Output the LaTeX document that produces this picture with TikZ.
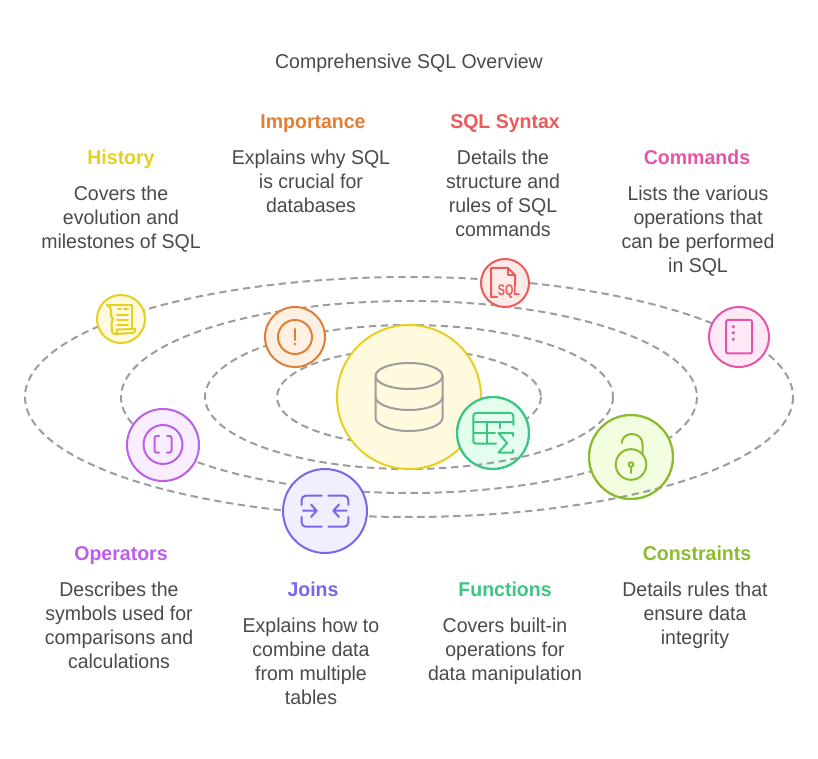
\documentclass[tikz,border=0pt]{standalone}
\usepackage{fontspec}
\setmainfont[FakeStretch=0.975]{Liberation Sans}
\definecolor{cgray}{HTML}{9E9C9C}
\definecolor{ctxt}{HTML}{4A4A4A}
\definecolor{cyel}{HTML}{E6CF1E}\definecolor{fyel}{HTML}{FFF9DD}
\definecolor{cora}{HTML}{E07F35}\definecolor{fora}{HTML}{FFF0E4}
\definecolor{cred}{HTML}{EC5A5A}\definecolor{fred}{HTML}{FFEAEA}
\definecolor{cpin}{HTML}{E455A8}\definecolor{fpin}{HTML}{FFE9F6}
\definecolor{cpur}{HTML}{BB5FE6}\definecolor{fpur}{HTML}{F9EEFF}
\definecolor{cind}{HTML}{7B66E8}\definecolor{find}{HTML}{F1EFFF}
\definecolor{cgrn}{HTML}{3CC583}\definecolor{fgrn}{HTML}{E3FDEF}
\definecolor{clim}{HTML}{8DBB30}\definecolor{flim}{HTML}{F3FDDF}
\newcommand{\lnA}{\strut}
\tikzset{
  orbit/.style={draw=cgray,line width=1.5pt,dash pattern=on 5.5pt off 3.5pt},
  hub/.style n args={3}{circle,draw=#1,fill=#2,line width=1.5pt,inner sep=0pt,minimum size=#3*1.5pt},
  icon/.style={draw=#1,line width=1.5pt,line cap=round,line join=round},
  body/.style={font=\fontsize{15}{18}\selectfont,text=ctxt,align=center,inner sep=0pt,yshift=-2.25pt},
  head/.style={font=\fontsize{15}{18}\selectfont\bfseries,text=#1,inner sep=0pt,yshift=-2.25pt},
}
\begin{document}
\begin{tikzpicture}[x=0.75pt,y=-0.75pt]
\path[use as bounding box,fill=white] (0,0) rectangle (818,759);
\coordinate (o) at (409,397);
\draw[orbit] (o) ellipse [x radius=384,y radius=120];
\draw[orbit] (o) ellipse [x radius=288,y radius=96];
\draw[orbit] (o) ellipse [x radius=204,y radius=72];
\draw[orbit] (o) ellipse [x radius=132,y radius=48];

\node[hub={cyel}{fyel}{72}] (core) at (409,397) {};
\node[hub={cyel}{fyel}{24}] (hist) at (121,319) {};
\node[hub={cora}{fora}{30}] (imp) at (295,337) {};
\node[hub={cred}{fred}{24}] (syn) at (505,283) {};
\node[hub={cpin}{fpin}{30}] (cmd) at (739,337) {};
\node[hub={cpur}{fpur}{36}] (ops) at (163,445) {};
\node[hub={cind}{find}{42}] (joi) at (325,511) {};
\node[hub={cgrn}{fgrn}{36}] (fun) at (493,433) {};
\node[hub={clim}{flim}{42}] (con) at (631,457) {};

% orbits that run over the discs
\begin{scope}
\clip (631,457) circle [radius=42];
\draw[orbit] (o) ellipse [x radius=384,y radius=120];
\end{scope}
\begin{scope}
\clip (493,433) circle [radius=36];
\draw[orbit] (o) ellipse [x radius=204,y radius=72];
\end{scope}
\node[hub={cgrn}{fgrn}{36},fill=none] at (493,433) {};
\node[hub={clim}{flim}{42},fill=none] at (631,457) {};

% database
\draw[icon=cgray] (409,376) ellipse [x radius=33.5,y radius=13];
\draw[icon=cgray] (375.5,376) -- (375.5,418) .. controls (375.5,425) and (391,431) .. (409,431) .. controls (427,431) and (442.5,425) .. (442.5,418) -- (442.5,376);
\draw[icon=cgray] (375.5,397) .. controls (375.5,404) and (391,410) .. (409,410) .. controls (427,410) and (442.5,404) .. (442.5,397);

% scroll
\draw[icon=cyel] (107,305) -- (132,305) -- (132,328);
\draw[icon=cyel] (107,305) .. controls (110,306) and (111,308) .. (111,311) -- (111,316) -- (113,319) -- (111.500,323) -- (112,331) .. controls (112,333) and (113,334) .. (115,334) -- (132,333) .. controls (134,333) and (135,332) .. (135,331) -- (135,329) -- (117,329.500) -- (117,331) .. controls (117,333) and (116,334) .. (115,334);
\draw[icon=cyel] (118,309.500) -- (121,309.500) (124,309.500) -- (128,309.500);
\draw[icon=cyel] (117,315) -- (128,315) (117,320) -- (128,320) (117,325) -- (128,325);

% importance
\draw[icon=cora] (295,337) circle [radius=17];
\draw[icon=cora] (295,329) -- (295,340);
\fill[cora] (295,344) circle [radius=1.4];

% sql
\draw[icon=cred] (497,297) -- (491,297) -- (491,268) -- (508,268) -- (515,275) -- (515,285);
\draw[icon=cred] (508,268) -- (508,275) -- (515,275);
\node[font=\fontsize{11.5}{12}\selectfont\bfseries,text=cred,inner sep=0pt,xscale=.72] (syntxt) at (509,291.500) {SQL};

% commands
\draw[icon=cpin,rounded corners=1.5pt] (726,320) rectangle (752,353.500);
\fill[cpin] (733.300,326.700) circle [radius=1.8] (733.300,332.800) circle [radius=1.8] (733.300,339.300) circle [radius=1.8];

% operators
\draw[icon=cpur] (163,444.500) circle [radius=19.500];
\draw[icon=cpur] (159,436) -- (156.500,436) .. controls (155,436) and (154.500,437) .. (154.500,438) -- (154.500,450.500) .. controls (154.500,451.500) and (155,452.500) .. (156.500,452.500) -- (159,452.500);
\draw[icon=cpur] (167,436) -- (169.500,436) .. controls (171,436) and (171.500,437) .. (171.500,438) -- (171.500,450.500) .. controls (171.500,451.500) and (171,452.500) .. (169.500,452.500) -- (167,452.500);

% joins
\draw[icon=cind,rounded corners=3pt] (321.700,495.700) -- (301.700,495.700) -- (301.700,505);
\draw[icon=cind,rounded corners=3pt] (328.300,495.700) -- (348.300,495.700) -- (348.300,505);
\draw[icon=cind,rounded corners=3pt] (321.700,526.700) -- (301.700,526.700) -- (301.700,517);
\draw[icon=cind,rounded corners=3pt] (328.300,526.700) -- (348.300,526.700) -- (348.300,517);
\draw[icon=cind] (303,510.700) -- (316.700,510.700) (311,504.500) -- (316.700,510.700) -- (311,517);
\draw[icon=cind] (346.700,510.700) -- (333.300,510.700) (339,504.500) -- (333.300,510.700) -- (339,517);

% functions
\draw[icon=cgrn] (496,443.500) -- (476,443.500) .. controls (474,443.500) and (473.300,442.500) .. (473.300,441) -- (473.300,416) .. controls (473.300,414) and (474.500,413) .. (476,413) -- (510.500,413) .. controls (512,413) and (513.300,414) .. (513.300,416) -- (513.300,425);
\draw[icon=cgrn] (473.300,422) -- (513.300,422) (473.300,433) -- (495,433) (486.700,422) -- (486.700,443.500) (500,423.500) -- (500,428);
\draw[icon=cgrn] (513,436) -- (513,433) -- (498.500,433) -- (507,443) -- (498.500,452.500) -- (513,452.500) -- (513,450);

% lock
\draw[icon=clim] (631,464.500) circle [radius=15.300];
\draw[icon=clim] (621.700,443) .. controls (621.700,438) and (626,434) .. (632,434) .. controls (638,434) and (642.500,438.500) .. (642.500,444) -- (642.500,453);
\draw[icon=clim] (631,464.500) circle [radius=2.300];
\draw[icon=clim] (631,466.800) -- (631,473);

% labels
\node[body] (title) at (409,61) {\lnA Comprehensive SQL Overview\lnA};
\node[head=cyel] (histh) at (121,157) {\lnA History};
\node[body] (histb) at (121,217) {\lnA Covers the\\evolution and\\milestones of SQL\lnA};
\node[head=cora] (imph) at (313,121) {\lnA Importance};
\node[body] (impb) at (311,181) {\lnA Explains why SQL\\is crucial for\\databases\lnA};
\node[head=cred] (synh) at (505,121) {\lnA SQL Syntax};
\node[body] (synb) at (503,193) {\lnA Details the\\structure and\\rules of SQL\\commands\lnA};
\node[head=cpin] (cmdh) at (697,157) {\lnA Commands};
\node[body] (cmdb) at (698,229) {\lnA Lists the various\\operations that\\can be performed\\in SQL\lnA};
\node[head=cpur] (opsh) at (121,553) {\lnA Operators};
\node[body] (opsb) at (119,625) {\lnA Describes the\\symbols used for\\comparisons and\\calculations\lnA};
\node[head=cind] (joih) at (313,589) {\lnA Joins};
\node[body] (joib) at (311,661) {\lnA Explains how to\\combine data\\from multiple\\tables\lnA};
\node[head=cgrn] (funh) at (505,589) {\lnA Functions};
\node[body] (funb) at (505,649) {\lnA Covers built-in\\operations for\\data manipulation\lnA};
\node[head=clim] (conh) at (697,553) {\lnA Constraints};
\node[body] (conb) at (695,613) {\lnA Details rules that\\ensure data\\integrity\lnA};
\end{tikzpicture}
\end{document}
